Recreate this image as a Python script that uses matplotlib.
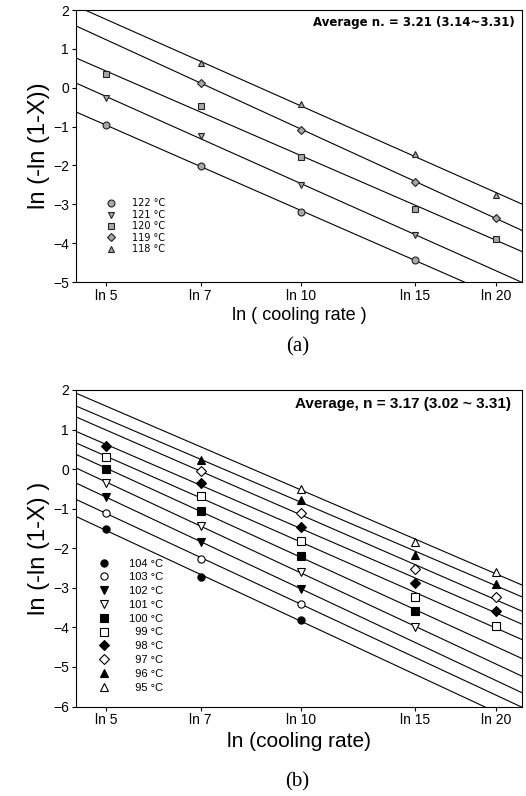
import numpy as np
import matplotlib
matplotlib.use('Agg')
import matplotlib.pyplot as plt

plt.rcParams['font.family'] = ['Liberation Sans', 'DejaVu Sans']

# ==== data ====
rate_ticks = [5, 7, 10, 15, 20]
tick_labels = ['ln 5', 'ln 7', 'ln 10', 'ln 15', 'ln 20']

# (a) 118-122 C
temps_a = ['122 °C', '121 °C', '120 °C', '119 °C', '118 °C']
rates_a = [
    [5, 7, 10, 15],
    [5, 7, 10, 15],
    [5, 7, 10, 15, 20],
    [7, 10, 15, 20],
    [7, 10, 15, 20],
]
vals_a = [
    [-0.96, -2.01, -3.20, -4.43],
    [-0.26, -1.24, -2.51, -3.78],
    [0.35, -0.47, -1.79, -3.11, -3.88],
    [0.13, -1.08, -2.42, -3.36],
    [0.63, -0.43, -1.70, -2.77],
]
markers_a = ['o', 'v', 's', 'D', '^']

# (b) 95-104 C
temps_b = ['104 °C', '103 °C', '102 °C', '101 °C', '100 °C',
           '  99 °C', '  98 °C', '  97 °C', '  96 °C', '  95 °C']
rates_b = [
    [5, 7, 10],
    [5, 7, 10],
    [5, 7, 10],
    [5, 7, 10, 15],
    [5, 7, 10, 15],
    [5, 7, 10, 15, 20],
    [5, 7, 10, 15, 20],
    [7, 10, 15, 20],
    [7, 10, 15, 20],
    [10, 15, 20],
]
vals_b = [
    [-1.52, -2.72, -3.82],
    [-1.10, -2.27, -3.40],
    [-0.70, -1.85, -3.02],
    [-0.34, -1.43, -2.61, -3.99],
    [0.00, -1.05, -2.20, -3.58],
    [0.30, -0.68, -1.82, -3.23, -3.96],
    [0.59, -0.36, -1.46, -2.87, -3.58],
    [-0.05, -1.12, -2.53, -3.24],
    [0.23, -0.78, -2.16, -2.91],
    [-0.50, -1.84, -2.61],
]
markers_b = ['o', 'o', 'v', 'v', 's', 's', 'D', 'D', '^', '^']
filled_b = [True, False, True, False, True, False, True, False, True, False]

xlim = (1.503, 3.086)

fig = plt.figure(figsize=(5.26, 7.96), dpi=100)
ax1 = fig.add_axes([0.1445, 0.6457, 0.8475, 0.3417])
ax2 = fig.add_axes([0.1445, 0.1124, 0.8475, 0.3977])

xx = np.array(xlim)

# -- (a) --
for i in range(len(temps_a)):
    x = np.log(rates_a[i])
    y = np.array(vals_a[i])
    k, b = np.polyfit(x, y, 1)
    ax1.plot(xx, k * xx + b, color='black', lw=0.8, zorder=1)
    ms = 4.5 if markers_a[i] == 'D' else 5
    ax1.plot(x, y, linestyle='none', marker=markers_a[i], ms=ms, mfc='#a8a8a8',
             mec='#222222', mew=0.8, label=temps_a[i], zorder=3)

ax1.set_xlim(xlim)
ax1.set_ylim(-5, 2)
ax1.set_yticks(range(-5, 3))
ax1.set_xticks(np.log(rate_ticks))
ax1.set_xticklabels(tick_labels)
ax1.set_ylabel('ln (-ln (1-X))', fontsize=17, labelpad=2)
ax1.set_xlabel('ln ( cooling rate )', fontsize=13, labelpad=3)
ax1.text(0.985, 0.955, 'Average n. = 3.21 (3.14~3.31)', transform=ax1.transAxes,
         ha='right', va='center', fontsize=8.5, fontweight='bold', family='DejaVu Sans')
leg1 = ax1.legend(loc='upper left', bbox_to_anchor=(0.045, 0.325), frameon=False,
                  handletextpad=1.2, labelspacing=0.15, borderpad=0,
                  prop={'family': 'DejaVu Sans', 'size': 7})

# -- (b) --
for i in range(len(temps_b)):
    x = np.log(rates_b[i])
    y = np.array(vals_b[i])
    k, b = np.polyfit(x, y, 1)
    ax2.plot(xx, k * xx + b, color='black', lw=0.8, zorder=1)
    ms = 4.8 if markers_b[i] == 'D' else 5.2
    ax2.plot(x, y, linestyle='none', marker=markers_b[i], ms=ms,
             mfc='black' if filled_b[i] else 'white',
             mec='black', mew=0.8, label=temps_b[i], zorder=3)

ax2.set_xlim(xlim)
ax2.set_ylim(-6, 2)
ax2.set_yticks(range(-6, 3))
ax2.set_xticks(np.log(rate_ticks))
ax2.set_xticklabels(tick_labels)
ax2.set_ylabel('ln (-ln (1-X) )', fontsize=17, labelpad=2)
ax2.set_xlabel('ln (cooling rate)', fontsize=15, labelpad=3)
ax2.text(0.975, 0.955, 'Average, n = 3.17 (3.02 ~ 3.31)', transform=ax2.transAxes,
         ha='right', va='center', fontsize=11, fontweight='bold')
leg2 = ax2.legend(loc='upper left', bbox_to_anchor=(0.025, 0.485), frameon=False,
                  handletextpad=1.3, labelspacing=0.34, borderpad=0,
                  prop={'size': 8})

for ax in (ax1, ax2):
    ax.tick_params(direction='out', length=3, width=0.8, labelsize=10, pad=2)
    for s in ax.spines.values():
        s.set_linewidth(0.8)

fig.text(0.565, 1 - 347 / 796, '(a)', ha='center', va='center', fontsize=15,
         family='Liberation Serif')
fig.text(0.565, 1 - 782 / 796, '(b)', ha='center', va='center', fontsize=15,
         family='Liberation Serif')

fig.savefig('out.png', dpi=100)
